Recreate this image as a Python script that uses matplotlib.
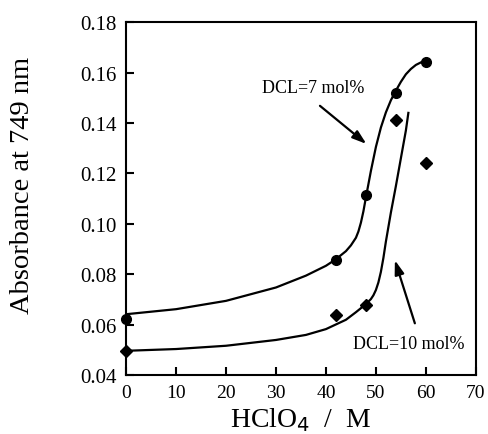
import matplotlib
matplotlib.use("Agg")
import matplotlib.pyplot as plt

plt.rcParams['font.family'] = ['Liberation Serif', 'DejaVu Serif']

# measured points
hclo4 = [0, 42, 48, 54, 60]
abs_7 = [0.0625, 0.0855, 0.1115, 0.152, 0.164]
abs_10 = [0.0497, 0.064, 0.068, 0.141, 0.124]

# smooth guide curves
curve7_x = [0, 10, 20, 30, 36, 40, 42, 44, 45, 46, 46.5, 47, 47.5, 48, 49, 50, 51, 52, 53, 54, 55, 56, 57, 58, 59, 59.5]
curve7_y = [0.0642, 0.0662, 0.0695, 0.0748, 0.0795, 0.0834, 0.0860, 0.0892, 0.0915, 0.0945, 0.0970, 0.1005,
            0.1050, 0.1105, 0.1210, 0.1305, 0.1382, 0.1442, 0.1490, 0.1528, 0.1563, 0.1593, 0.1614, 0.1630,
            0.1640, 0.1645]
curve10_x = [0, 10, 20, 30, 36, 40, 44, 46, 48, 49, 49.5, 50, 50.5, 51, 51.5, 52, 53, 54, 55, 56, 56.5]
curve10_y = [0.0497, 0.0504, 0.0517, 0.0540, 0.0560, 0.0583, 0.0620, 0.0650, 0.0682, 0.0702, 0.0717, 0.0738,
             0.0768, 0.0810, 0.0865, 0.0930, 0.1045, 0.1150, 0.1260, 0.1370, 0.1440]

# annotation arrows (tail, head)
arrow7 = ((38.8, 0.1468), (48.1, 0.1317))
arrow10 = ((57.8, 0.0606), (53.8, 0.0856))

fig = plt.figure(figsize=(4.89, 4.35), dpi=100)
ax = fig.add_axes([0.258, 0.135, 0.715, 0.812])

ax.plot(curve7_x, curve7_y, color='black', lw=1.6)
ax.plot(curve10_x, curve10_y, color='black', lw=1.6)
ax.plot(hclo4, abs_7, 'o', color='black', ms=7, clip_on=False)
ax.plot(hclo4, abs_10, 'D', color='black', ms=6, clip_on=False)

ax.text(37.4, 0.1539, 'DCL=7 mol%', ha='center', va='center', fontsize=13)
ax.text(56.6, 0.0527, 'DCL=10 mol%', ha='center', va='center', fontsize=13)
for tail, head in (arrow7, arrow10):
    ax.annotate('', xy=head, xytext=tail,
                arrowprops=dict(arrowstyle='-|>,head_length=0.6,head_width=0.2', color='black', lw=1.6,
                                mutation_scale=14, shrinkA=0, shrinkB=0))

ax.set_xlim(0, 70)
ax.set_ylim(0.04, 0.18)
ax.set_xticks(range(0, 71, 10))
ax.set_yticks([0.04, 0.06, 0.08, 0.10, 0.12, 0.14, 0.16, 0.18])
ax.set_yticklabels(['0.04', '0.06', '0.08', '0.10', '0.12', '0.14', '0.16', '0.18'])
ax.tick_params(direction='in', length=6, width=1.5, top=False, right=False)
ax.tick_params(axis='y', labelsize=15, pad=7)
ax.tick_params(axis='x', labelsize=14, pad=6)
for s in ax.spines.values():
    s.set_linewidth(1.5)

ax.set_xlabel('HClO$_4$  /  M', fontsize=20, labelpad=3)
ax.set_ylabel('Absorbance at 749 nm', fontsize=20.5)
ax.yaxis.set_label_coords(-0.262, 0.541)

fig.savefig('out.png', dpi=100)
